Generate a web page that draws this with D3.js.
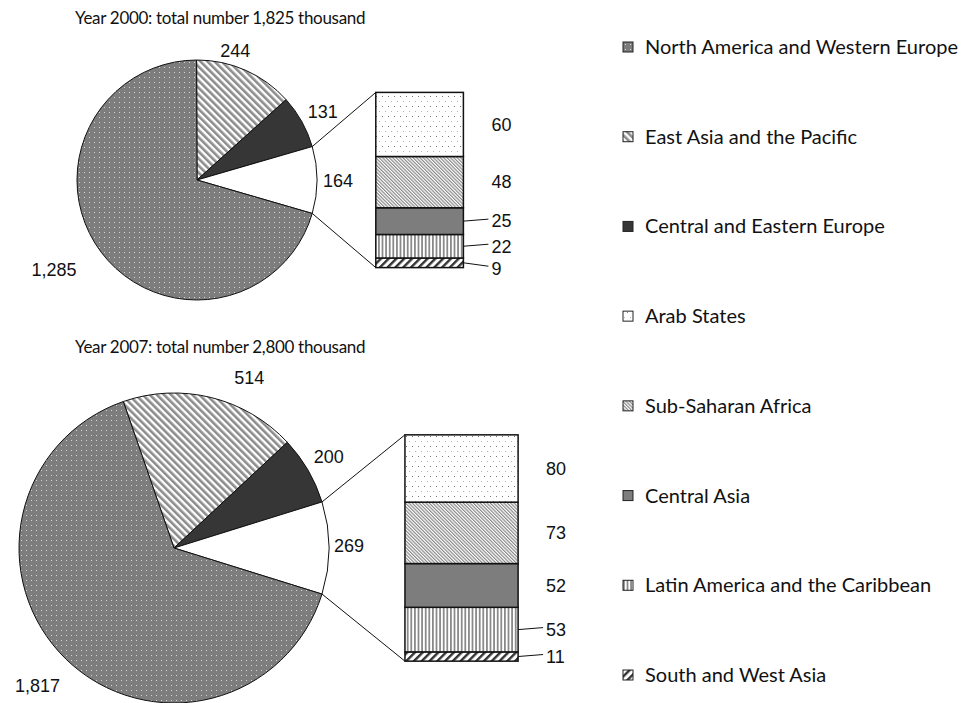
<!DOCTYPE html>
<html lang="en">
<head>
<meta charset="UTF-8">
<title>Bar of pie: 2000 and 2007</title>
<script src="https://d3js.org/d3.v7.min.js"></script>
<style>
  body, html { margin: 0; background: #fff; }
  .num { font-family: "Liberation Sans", Arial, sans-serif; font-size: 18px; fill: #111; }
  .title { font-family: Lato, "Open Sans", sans-serif; font-size: 17px; letter-spacing: -0.3px; fill: #111; }
  .leg { font-family: Lato, "Open Sans", sans-serif; font-size: 20px; fill: #111; }
</style>
</head>
<body>
<div id="chart"></div>
<script>
// regions, in legend order
var regions = ["North America and Western Europe", "East Asia and the Pacific",
  "Central and Eastern Europe", "Arab States", "Sub-Saharan Africa", "Central Asia",
  "Latin America and the Caribbean", "South and West Asia"];
var years = ["2000", "2007"];
var totals = ["1,825", "2,800"];
var values2000 = [1285, 244, 131, 60, 48, 25, 22, 9];
var values2007 = [1817, 514, 200, 80, 73, 52, 53, 11];
// regions that go into the bar ("other" slice)
var barRegions = regions.slice(3);
// bar labels drawn with a leader line
var leaders2000 = ["Central Asia", "Latin America and the Caribbean", "South and West Asia"];
var leaders2007 = ["Latin America and the Caribbean", "South and West Asia"];

var width = 962, height = 703;
var svg = d3.select("#chart").append("svg")
  .attr("width", width).attr("height", height);

// patterns
var defs = svg.append("defs");
function stripes(id, size, band, color, angle) {
  var p = defs.append("pattern").attr("id", id)
    .attr("patternUnits", "userSpaceOnUse")
    .attr("width", size).attr("height", size)
    .attr("patternTransform", "rotate(" + angle + ")");
  p.append("rect").attr("width", size).attr("height", size).attr("fill", "#fff");
  p.append("rect").attr("width", band).attr("height", size).attr("fill", color);
}
var pNA = defs.append("pattern").attr("id", "pNA").attr("patternUnits", "userSpaceOnUse")
  .attr("width", 5).attr("height", 5);
pNA.append("rect").attr("width", 5).attr("height", 5).attr("fill", "#7d7d7d");
pNA.append("rect").attr("x", 2).attr("y", 2).attr("width", 1).attr("height", 1).attr("fill", "#d6d6d6");

var pAS = defs.append("pattern").attr("id", "pAS").attr("patternUnits", "userSpaceOnUse")
  .attr("width", 6).attr("height", 10);
pAS.append("rect").attr("width", 6).attr("height", 10).attr("fill", "#fff");
pAS.append("rect").attr("x", 1).attr("y", 1).attr("width", 1).attr("height", 1).attr("fill", "#b0b0b0");
pAS.append("rect").attr("x", 4).attr("y", 6).attr("width", 1).attr("height", 1).attr("fill", "#777");

stripes("pEA", 5, 2.6, "#8c8c8c", -45);
stripes("pSSA", 2.4, 1.2, "#8a8a8a", -45);
stripes("pLA", 3.6, 1.8, "#8a8a8a", 0);
stripes("pSWA", 5.5, 2.4, "#333", 45);

var fills = ["url(#pNA)", "url(#pEA)", "#363636", "url(#pAS)", "url(#pSSA)", "#7d7d7d", "url(#pLA)", "url(#pSWA)"];
var fillOf = d3.scaleOrdinal().domain(regions).range(fills);

// layout of each chart; nudge = label shift [dx, dy] from the slice's outer centroid
var layouts = [
  { cx: 197, cy: 180, r: 120, titleY: 24,
    nudge: [[-20, 2], [0, 2], [-3, 1], [-28, 3]] },
  { cx: 174, cy: 548, r: 155, titleY: 353,
    nudge: [[32, 3], [0, -1], [-4, -2], [-12, 9]] }
];
var fmt = d3.format(",");

function drawChart(values, year, total, L, leaders) {
  var g = svg.append("g");
  var byName = {};
  regions.forEach(function (n, i) { byName[n] = values[i]; });
  var other = d3.sum(barRegions, function (n) { return byName[n]; });

  // pie, clockwise: East Asia, CEE, Other, NA
  var slices = [
    { name: regions[1], value: byName[regions[1]], fill: fillOf(regions[1]) },
    { name: regions[2], value: byName[regions[2]], fill: fillOf(regions[2]) },
    { name: "Other", value: other, fill: "#fff" },
    { name: regions[0], value: byName[regions[0]], fill: fillOf(regions[0]) }
  ];
  var sum = d3.sum(slices, function (d) { return d.value; });
  var toAngle = d3.scaleLinear().domain([0, sum]).range([0, 2 * Math.PI]);
  // rotate so the "Other" slice is centred at 3 o'clock
  var start = Math.PI / 2 - toAngle(slices[0].value + slices[1].value + other / 2);
  var pie = d3.pie().sort(null).value(function (d) { return d.value; })
    .startAngle(start).endAngle(start + 2 * Math.PI);
  var arcs = pie(slices);
  var arc = d3.arc().innerRadius(0).outerRadius(L.r);
  var labelArc = d3.arc().innerRadius(L.r + 24).outerRadius(L.r + 24);

  var pg = g.append("g").attr("transform", "translate(" + L.cx + "," + L.cy + ")");
  pg.selectAll("path").data(arcs).enter().append("path")
    .attr("d", arc)
    .attr("fill", function (d) { return d.data.fill; })
    .attr("stroke", "#111").attr("stroke-width", 1);
  pg.selectAll("text").data(arcs).enter().append("text")
    .attr("class", "num")
    .attr("transform", function (d, i) {
      var c = labelArc.centroid(d);
      return "translate(" + (c[0] + L.nudge[i][0]) + "," + (c[1] + L.nudge[i][1]) + ")";
    })
    .attr("text-anchor", "middle").attr("dy", "0.35em")
    .text(function (d) { return fmt(d.value); });

  // bar
  var barX = L.cx + L.r * 1.49, barW = L.r * 0.73, barH = L.r * 1.46;
  var barTop = L.cy - barH / 2, barBottom = L.cy + barH / 2;
  var y = d3.scaleLinear().domain([0, other]).range([barBottom, barTop]);
  var stack = [];
  var acc = 0;
  barRegions.slice().reverse().forEach(function (n) {
    stack.push({ name: n, y0: acc, y1: acc + byName[n] });
    acc += byName[n];
  });
  g.selectAll("rect.seg").data(stack).enter().append("rect")
    .attr("class", "seg")
    .attr("x", barX).attr("width", barW)
    .attr("y", function (d) { return y(d.y1); })
    .attr("height", function (d) { return y(d.y0) - y(d.y1); })
    .attr("fill", function (d) { return fillOf(d.name); })
    .attr("stroke", "#111").attr("stroke-width", 1.5);

  // label positions: segment middle, pushed down so labels do not collide
  var lx = barX + barW + 28;
  var labs = stack.slice().reverse().map(function (d) {
    return { d: d, mid: y((d.y0 + d.y1) / 2) };
  });
  labs.forEach(function (l, i) {
    l.ly = i === 0 ? l.mid : Math.max(l.mid, labs[i - 1].ly + 22);
  });
  g.selectAll("text.bl").data(labs).enter().append("text")
    .attr("class", "num bl")
    .attr("x", lx)
    .attr("y", function (l) { return l.ly; })
    .attr("dy", "0.35em")
    .text(function (l) { return fmt(l.d.y1 - l.d.y0); });
  g.selectAll("line.ld").data(labs.filter(function (l) { return leaders.indexOf(l.d.name) >= 0; }))
    .enter().append("line").attr("class", "ld")
    .attr("x1", barX + barW).attr("x2", lx - 3)
    .attr("y1", function (l) { return l.mid; })
    .attr("y2", function (l) { return l.ly - 2; })
    .attr("stroke", "#111").attr("stroke-width", 1);

  // connectors from the "Other" slice to the bar
  var o = arcs[2];
  [[o.startAngle, barTop], [o.endAngle, barBottom]].forEach(function (c) {
    g.append("line")
      .attr("x1", L.cx + L.r * Math.sin(c[0])).attr("y1", L.cy - L.r * Math.cos(c[0]))
      .attr("x2", barX).attr("y2", c[1])
      .attr("stroke", "#111").attr("stroke-width", 1);
  });

  g.append("text").attr("class", "title")
    .attr("x", 75).attr("y", L.titleY)
    .text("Year " + year + ": total number " + total + " thousand");
}

drawChart(values2000, years[0], totals[0], layouts[0], leaders2000);
drawChart(values2007, years[1], totals[1], layouts[1], leaders2007);

// legend
var legY = d3.scalePoint().domain(regions).range([47, 675]);
var leg = svg.append("g").selectAll("g").data(regions).enter().append("g")
  .attr("transform", function (d) { return "translate(623," + legY(d) + ")"; });
leg.append("rect").attr("x", 0).attr("y", -5).attr("width", 10).attr("height", 10)
  .attr("fill", function (d) { return fillOf(d); })
  .attr("stroke", "#222").attr("stroke-width", 1);
leg.append("text").attr("class", "leg").attr("x", 22).attr("dy", "0.35em")
  .text(function (d) { return d; });
</script>
</body>
</html>
